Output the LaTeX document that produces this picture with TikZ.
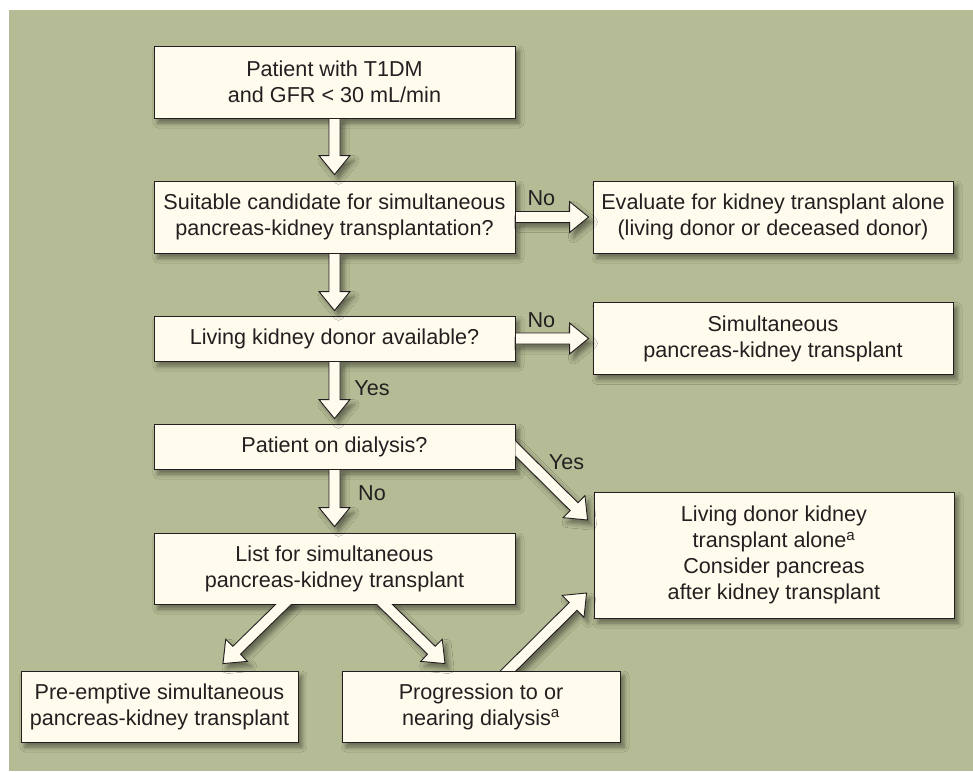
\documentclass[tikz,border=0pt]{standalone}
\usepackage{fontspec}
\setmainfont{Liberation Sans}
\usetikzlibrary{calc,positioning,shadows.blur}

\definecolor{bgolive}{HTML}{B5BC95}
\definecolor{boxcream}{HTML}{FFFCEE}
\definecolor{inkgray}{HTML}{231F20}

\tikzset{
  softshadow/.style={blur shadow={shadow xshift=4pt, shadow yshift=-5pt, shadow blur radius=5pt, shadow opacity=45}},
  flowbox/.style={draw=inkgray, line width=0.9pt, fill=boxcream, text=inkgray, align=center,
    inner sep=0pt, minimum width=361pt, minimum height=72pt, softshadow},
  blockarrow/.style={draw=inkgray, line width=0.9pt, fill=boxcream, line join=miter, softshadow},
  answer/.style={text=inkgray, inner sep=0pt}
}

% hollow block arrow: [back-off into source]{from}{to}
\newcommand{\flowarrow}[3][0pt]{%
  \path ($(#2)!-#1!(#3)$) coordinate (fa-s) ($(#3)!19pt!(#2)$) coordinate (fa-b);
  \draw[blockarrow] ($(fa-s)!5.5pt!90:(#3)$) -- ($(fa-b)!5.5pt!90:(#3)$) -- ($(fa-b)!15.5pt!90:(#3)$)
    -- (#3) -- ($(fa-b)!15.5pt!-90:(#3)$) -- ($(fa-b)!5.5pt!-90:(#3)$) -- ($(fa-s)!5.5pt!-90:(#3)$) -- cycle;
}

\begin{document}
\begin{tikzpicture}[node distance=100pt, font=\fontsize{21.6}{26}\selectfont]
    \useasboundingbox (-334.5pt,-689pt) rectangle (638.5pt,82pt);
    \fill[bgolive] (-325.5pt,-689pt) rectangle (638.5pt,72pt);

    \node[flowbox] (start) {Patient with T1DM\\and GFR < 30 mL/min};
    \node[flowbox, below of=start, yshift=-35pt] (cand) {Suitable candidate for simultaneous\\pancreas-kidney transplantation?};
    \node[flowbox, right of=cand, xshift=338.5pt, minimum width=360pt] (eval) {Evaluate for kidney transplant alone\\(living donor or deceased donor)};
    \node[flowbox, below of=cand, yshift=-21.5pt, minimum height=45pt] (donor) {Living kidney donor available?};
    \node[flowbox, right of=donor, xshift=338.5pt, minimum width=360pt] (simul) {Simultaneous\\pancreas-kidney transplant};
    \node[flowbox, below of=donor, yshift=-8pt, minimum height=45pt] (dial) {Patient on dialysis?};
    \node[flowbox, below of=dial, yshift=-22pt, minimum height=71pt] (list) {List for simultaneous\\pancreas-kidney transplant};
    \node[flowbox, right of=dial, xshift=339.5pt, yshift=-108.5pt, minimum width=360pt, minimum height=126pt] (alone)
        {Living donor kidney\\transplant alone\textsuperscript{a}\\Consider pancreas\\after kidney transplant};
    \node[flowbox, below of=list, xshift=-175pt, yshift=-38pt, minimum width=277pt, minimum height=71pt] (pre)
        {Pre-emptive simultaneous\\pancreas-kidney transplant};
    \node[flowbox, below of=list, xshift=146.5pt, yshift=-38pt, minimum width=278pt, minimum height=71pt] (prog)
        {Progression to or\\nearing dialysis\textsuperscript{a}};

    \flowarrow{start.south}{[yshift=6pt]cand.north}
    \flowarrow{cand.south}{[yshift=5pt]donor.north}
    \flowarrow{donor.south}{[yshift=5pt]dial.north}
    \flowarrow{dial.south}{[yshift=6pt]list.north}
    \flowarrow{cand.east}{[xshift=-4pt]eval.west}
    \flowarrow{donor.east}{[xshift=-4pt]simul.west}

    \begin{scope}
        \clip (dial.east) ++(0pt,-200pt) rectangle ++(300pt,400pt);
        \flowarrow[8pt]{[yshift=-2pt]dial.east}{[xshift=-6pt,yshift=35pt]alone.west}
    \end{scope}
    \begin{scope}
        \clip (list.south) ++(-300pt,0pt) rectangle ++(600pt,-200pt);
        \flowarrow[8pt]{[xshift=-51pt]list.south}{[xshift=63.5pt,yshift=7pt]pre.north}
        \flowarrow[8pt]{[xshift=50pt]list.south}{[xshift=-36pt,yshift=7pt]prog.north}
    \end{scope}
    \begin{scope}
        \clip (prog.north) ++(-200pt,0pt) rectangle ++(400pt,200pt);
        \flowarrow[8pt]{[xshift=27.5pt]prog.north}{[xshift=-7pt,yshift=-38pt]alone.west}
    \end{scope}

    \node[answer] (no1) at ([xshift=26pt,yshift=19pt]cand.east) {No};
    \node[answer] (no2) at ([xshift=26pt,yshift=18.5pt]donor.east) {No};
    \node[answer] (yes1) at ([xshift=37.5pt,yshift=-27pt]donor.south) {Yes};
    \node[answer] (no3) at ([xshift=37.5pt,yshift=-24pt]dial.south) {No};
    \node[answer] (yes2) at ([xshift=51pt,yshift=-15.5pt]dial.east) {Yes};
\end{tikzpicture}
\end{document}
